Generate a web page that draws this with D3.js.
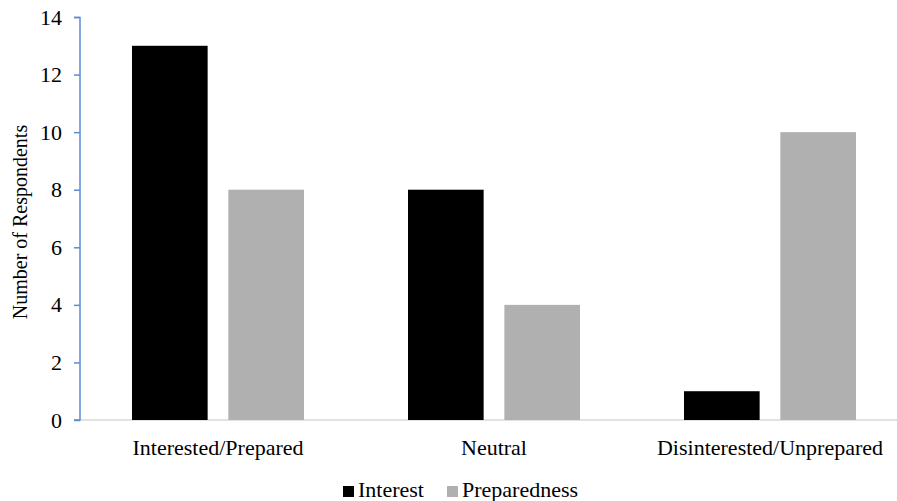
<!DOCTYPE html>
<html><head><meta charset="utf-8">
<script src="https://cdn.jsdelivr.net/npm/d3@7"></script>
<style>body{margin:0;background:#fff;} svg{display:block;}</style>
</head><body>
<svg id="c" width="897" height="501"></svg>
<script>
const categories = ["Interested/Prepared", "Neutral", "Disinterested/Unprepared"];
const seriesNames = ["Interest", "Preparedness"];
const interest = [13, 8, 1];
const preparedness = [8, 4, 10];
const yTicks = [0, 2, 4, 6, 8, 10, 12, 14];
const colors = ["#000000", "#b0b0b0"];

const svg = d3.select("#c");
const font = "'Liberation Serif', 'Times New Roman', serif";
const x0 = d3.scaleBand().domain(categories).range([80, 908]).paddingInner(0).paddingOuter(0);
const y = d3.scaleLinear().domain([0, 14]).range([420, 17]);
const x1 = d3.scaleBand().domain(seriesNames).range([52, 276 - 52]).paddingInner(0.215);

// x baseline
svg.append("line").attr("x1", 80).attr("x2", 897).attr("y1", y(0)).attr("y2", y(0))
  .attr("stroke", "#d9d9d9").attr("stroke-width", 1.5);

const data = categories.map((c, i) => ({c, vals: [interest[i], preparedness[i]]}));
const g = svg.append("g");
data.forEach(d => {
  d.vals.forEach((v, j) => {
    g.append("rect")
      .attr("x", x0(d.c) + x1(seriesNames[j]))
      .attr("width", x1.bandwidth())
      .attr("y", y(v))
      .attr("height", y(0) - y(v))
      .attr("fill", colors[j]);
  });
});

// y axis
const axisColor = "#5b8cd3";
const yAxis = d3.axisLeft(y).tickValues(yTicks).tickSize(6).tickPadding(12).tickFormat(d3.format("d"));
const ya = svg.append("g").attr("transform", "translate(80,0)").call(yAxis);
ya.select(".domain").attr("stroke", axisColor).attr("stroke-width", 1.5).attr("d", "M-6,17.5H0V420H-6");
ya.selectAll(".tick line").attr("stroke", axisColor).attr("stroke-width", 1.5);
ya.selectAll(".tick text").attr("font-family", font).attr("font-size", 22).attr("fill", "#000");

// x labels
const xAxis = d3.axisBottom(x0).tickSize(0).tickPadding(19);
const xa = svg.append("g").attr("transform", `translate(0,${y(0)})`).call(xAxis);
xa.select(".domain").remove();
xa.selectAll(".tick text").attr("font-family", font).attr("font-size", 22).attr("fill", "#000");

// y title
svg.append("text").attr("transform", "translate(27,222) rotate(-90)")
  .attr("text-anchor", "middle").attr("font-family", font).attr("font-size", 20)
  .text("Number of Respondents");

// legend
const legend = svg.append("g");
const lx = [343, 447];
seriesNames.forEach((s, i) => {
  legend.append("rect").attr("x", lx[i]).attr("y", 486).attr("width", 11).attr("height", 11).attr("fill", colors[i]);
  legend.append("text").attr("x", lx[i] + 15).attr("y", 497).attr("font-family", font).attr("font-size", 22).text(s);
});
</script>
</body></html>
